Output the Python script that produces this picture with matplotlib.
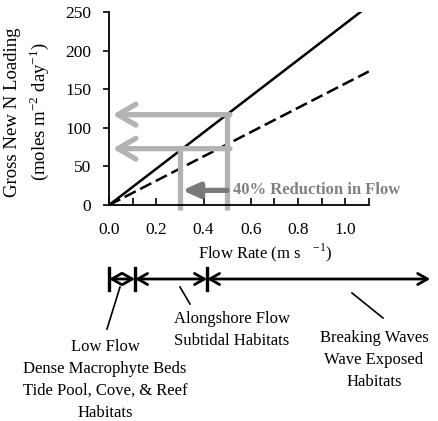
import matplotlib.pyplot as plt
import matplotlib.transforms as mtransforms

plt.rcParams['font.family'] = ['Liberation Serif', 'DejaVu Serif']
plt.rcParams['mathtext.fontset'] = 'custom'
plt.rcParams['mathtext.rm'] = 'Liberation Serif'

# Data
flow_solid = [0.0, 1.065]
load_solid = [0, 250]
flow_dashed = [0.0, 1.1]
load_dashed = [0, 173]

flow_before = 0.5
flow_after = 0.3
load_before = 117
load_after = 73
arrow_left = 0.015
reduction_y = 19
reduction_tip = 0.3

habitat_bounds = [0.0, 0.11, 0.415, 1.36]
habitat_labels = [
    "Low Flow\nDense Macrophyte Beds\nTide Pool, Cove, & Reef\nHabitats",
    "Alongshore Flow\nSubtidal Habitats",
    "Breaking Waves\nWave Exposed\nHabitats",
]

fig = plt.figure(figsize=(4.38, 4.21), dpi=100)
ax = fig.add_axes([0.249, 0.513, 0.593, 0.4585])

ax.plot(flow_solid, load_solid, color='black', lw=1.8)
ax.plot(flow_dashed, load_dashed, color='black', lw=1.8, ls=(0, (5, 2)))

light = '#b3b3b3'
dark = '#7a7a7a'
# vertical flow markers
ax.plot([flow_before, flow_before], [-6, load_before], color=light, lw=3.8,
        solid_capstyle='butt', clip_on=False)
ax.plot([flow_after, flow_after], [-6, load_after], color=light, lw=3.8,
        solid_capstyle='butt', clip_on=False)
# horizontal arrows to y axis
for yv in (load_before, load_after):
    ax.annotate('', xy=(arrow_left, yv), xytext=(flow_before + 0.012, yv),
                arrowprops=dict(arrowstyle='->,head_length=1.3,head_width=0.75',
                                color=light, lw=3.8, shrinkA=0, shrinkB=0))
ax.annotate('', xy=(reduction_tip + 0.01, reduction_y), xytext=(flow_before, reduction_y),
            arrowprops=dict(arrowstyle='-|>,head_length=1.0,head_width=0.45',
                            color=dark, lw=3.8, shrinkA=0, shrinkB=0))
ax.text(0.525, reduction_y, '40% Reduction in Flow', color='#808080',
        fontsize=12, fontweight='bold', va='center', ha='left')

ax.set_xlim(0, 1.1)
ax.set_ylim(0, 250)
ax.set_xticks([0.0, 0.2, 0.4, 0.6, 0.8, 1.0])
ax.set_xticks([0.1, 0.3, 0.5, 0.7, 0.9, 1.1], minor=True)
ax.set_xticklabels(['0.0', '0.2', '0.4', '0.6', '0.8', '1.0'])
ax.set_yticks([0, 50, 100, 150, 200, 250])
ax.tick_params(axis='x', which='both', direction='in', length=5, width=1.2,
               labelsize=12.5, pad=12)
ax.tick_params(axis='y', direction='out', length=4, width=1.2, labelsize=12.5, pad=9)
for s in ('top', 'right'):
    ax.spines[s].set_visible(False)
for s in ('left', 'bottom'):
    ax.spines[s].set_linewidth(1.3)

fig.text(265 / 438, 1 - 258 / 421, r'Flow Rate (m s   $^{-1}$)', fontsize=12,
         ha='center', va='baseline')
fig.text(13 / 438, 1 - 112 / 421, 'Gross New N Loading', rotation=90, fontsize=13.5,
         ha='center', va='center')
fig.text(39 / 438, 1 - 112 / 421, r'(moles m$^{-2}$ day$^{-1}$)', rotation=90,
         fontsize=13.5, ha='center', va='center')

# habitat scale below the plot
tr = mtransforms.blended_transform_factory(ax.transData, fig.transFigure)
yb = 1 - 279 / 421
for i in range(len(habitat_bounds) - 1):
    ax.annotate('', xy=(habitat_bounds[i], yb), xytext=(habitat_bounds[i + 1], yb),
                xycoords=tr, textcoords=tr, annotation_clip=False,
                arrowprops=dict(arrowstyle='<->,head_length=0.7,head_width=0.4',
                                color='black', lw=2, shrinkA=0, shrinkB=0))
for b in habitat_bounds[:3]:
    ax.plot([b, b], [yb - 0.026, yb + 0.026], color='black', lw=2.4,
            transform=tr, clip_on=False)

# leader lines and labels (figure pixel coordinates)
def fp(x, y):
    return x / 438, 1 - y / 421

leaders = [((120, 287), (107, 329)), ((180, 287), (190, 304)), ((352, 293), (383, 318))]
for (a, b) in leaders:
    p0, p1 = fp(*a), fp(*b)
    fig.add_artist(plt.Line2D([p0[0], p1[0]], [p0[1], p1[1]], color='black', lw=1.2))

label_pos = [(105, 339), (232, 311), (374, 330)]
for lab, (px, py) in zip(habitat_labels, label_pos):
    x, y = fp(px, py)
    fig.text(x, y, lab, ha='center', va='top', fontsize=12, linespacing=1.5)

fig.savefig('out.png', dpi=100)
